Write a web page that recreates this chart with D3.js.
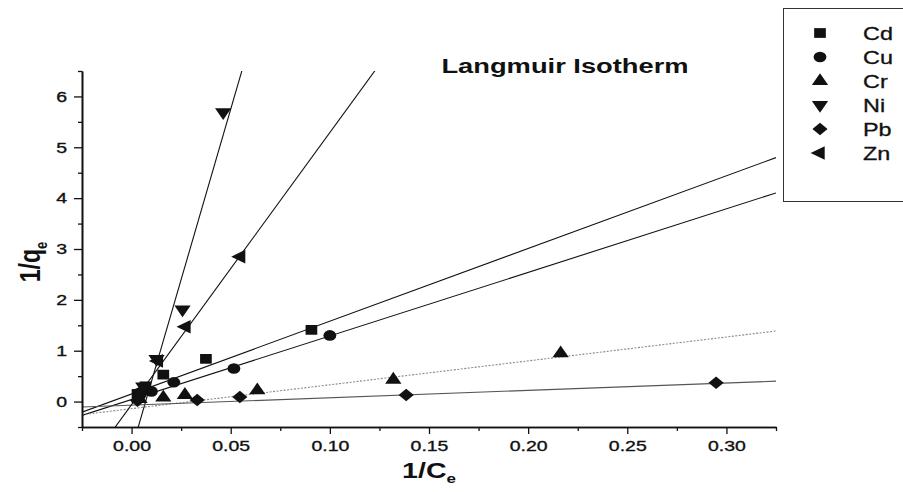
<!DOCTYPE html>
<html><head><meta charset="utf-8">
<script src="https://cdn.jsdelivr.net/npm/d3@7"></script>
<style>
body{margin:0;background:#fff;}
text{font-family:"Liberation Sans",Arial,Helvetica,sans-serif;fill:#111;}
</style>
</head><body>
<svg id="chart" width="903" height="492"></svg>
<script>
// ---- data ----
const seriesNames = ["Cd", "Cu", "Cr", "Ni", "Pb", "Zn"];
const cdX = [0.003, 0.007, 0.016, 0.0375, 0.0907];
const cdY = [0.15, 0.30, 0.53, 0.84, 1.41];
const cuX = [0.004, 0.010, 0.0213, 0.0516, 0.100];
const cuY = [0.12, 0.20, 0.38, 0.65, 1.30];
const crX = [0.004, 0.016, 0.0269, 0.0634, 0.132, 0.2164];
const crY = [0.05, 0.08, 0.13, 0.22, 0.43, 0.95];
const niX = [0.0059, 0.0126, 0.0257, 0.0462];
const niY = [0.30, 0.84, 1.81, 5.69];
const pbX = [0.003, 0.0331, 0.0546, 0.1385, 0.2948];
const pbY = [0.02, 0.03, 0.09, 0.13, 0.37];
const znX = [0.005, 0.0135, 0.0274, 0.055];
const znY = [0.22, 0.80, 1.47, 2.85];
// fitted straight lines (slope, intercept) as drawn in the reference
const fitSlope = [14.3, 12.5, 4.7, 134, 1.45, 53.5];
const fitIntercept = [0.15, 0.04, -0.14, -0.95, -0.07, -0.06];
const xTicks = [0.00, 0.05, 0.10, 0.15, 0.20, 0.25, 0.30];
const xMinorTicks = [-0.025, 0.025, 0.075, 0.125, 0.175, 0.225, 0.275, 0.325];
const yTicks = [0, 1, 2, 3, 4, 5, 6];
const yMinorTicks = [-0.5, 0.5, 1.5, 2.5, 3.5, 4.5, 5.5, 6.5];
const xDomain = [-0.025, 0.325];
const yDomain = [-0.5, 6.5];
const titleText = "Langmuir Isotherm";

// ---- styling ----
const SX = 1.3; // horizontal stretch of the reference text
const seriesX = [cdX, cuX, crX, niX, pbX, znX];
const seriesY = [cdY, cuY, crY, niY, pbY, znY];
const markerType = [d3.symbolSquare, d3.symbolCircle, d3.symbolTriangle, d3.symbolTriangle, d3.symbolSquare, d3.symbolTriangle];
const markerRot = [0, 0, 0, 180, 45, -90];
const markerSize = [95, 90, 80, 80, 80, 80];
const lineColor = ["#111", "#111", "#8a8a8a", "#111", "#555", "#111"];
const lineDash = [null, null, "2,1.5", null, null, null];

const svg = d3.select("#chart");
svg.append("rect").attr("width", 903).attr("height", 492).attr("fill", "#fff");

const x = d3.scaleLinear().domain(xDomain).range([82, 776]);
const y = d3.scaleLinear().domain(yDomain).range([427, 71]);

svg.append("clipPath").attr("id", "clip").append("rect")
  .attr("x", 82).attr("y", 71).attr("width", 694).attr("height", 356);

// fitted lines
const plot = svg.append("g").attr("clip-path", "url(#clip)");
seriesNames.forEach((n, i) => {
  const pts = xDomain.map(v => [v, fitSlope[i] * v + fitIntercept[i]]);
  plot.append("path")
    .attr("d", d3.line().x(d => x(d[0])).y(d => y(d[1]))(pts))
    .attr("fill", "none")
    .attr("stroke", lineColor[i])
    .attr("stroke-width", 1.1)
    .attr("stroke-dasharray", lineDash[i]);
});

// markers
const marks = svg.append("g");
seriesNames.forEach((n, i) => {
  const sym = d3.symbol().type(markerType[i]).size(markerSize[i]);
  seriesX[i].forEach((xv, j) => {
    marks.append("path")
      .attr("d", sym())
      .attr("transform", `translate(${x(xv)},${y(seriesY[i][j])}) scale(1.2,1) rotate(${markerRot[i]})`)
      .attr("fill", "#111");
  });
});

// axes
const xAxis = svg.append("g").attr("transform", "translate(0,427)")
  .call(d3.axisBottom(x).tickValues(xTicks).tickSize(7).tickSizeOuter(0).tickPadding(6).tickFormat(d3.format(".2f")));
svg.append("g").attr("transform", "translate(0,427)")
  .call(d3.axisBottom(x).tickValues(xMinorTicks).tickSize(4).tickSizeOuter(0).tickFormat(""));
const yAxis = svg.append("g").attr("transform", "translate(82,0)")
  .call(d3.axisLeft(y).tickValues(yTicks).tickSize(8).tickSizeOuter(0).tickPadding(7).tickFormat(d3.format("d")));
svg.append("g").attr("transform", "translate(82,0)")
  .call(d3.axisLeft(y).tickValues(yMinorTicks).tickSize(4).tickSizeOuter(0).tickFormat(""));

svg.selectAll(".domain").attr("stroke", "#111").attr("stroke-width", 1.6);
svg.selectAll(".tick line").attr("stroke", "#111").attr("stroke-width", 1.3);
xAxis.selectAll("text").attr("font-size", 15).attr("transform", `scale(${SX},1)`)
  .attr("font-family", '"Liberation Sans",Arial,sans-serif').attr("fill", "#111")
  .attr("stroke", "#111").attr("stroke-width", 0.35);
yAxis.selectAll("text").attr("font-size", 15)
  .attr("x", -15 / SX).attr("transform", `scale(${SX},1)`)
  .attr("font-family", '"Liberation Sans",Arial,sans-serif').attr("fill", "#111")
  .attr("stroke", "#111").attr("stroke-width", 0.35);

// title
svg.append("text").attr("transform", `translate(565,73) scale(${SX},1)`)
  .attr("text-anchor", "middle").attr("font-size", 21).attr("font-weight", "bold").text(titleText);

// x title
const xt = svg.append("text").attr("transform", `translate(429,478) scale(${SX},1)`)
  .attr("text-anchor", "middle").attr("font-size", 22).attr("font-weight", "bold");
xt.append("tspan").text("1/C");
xt.append("tspan").attr("font-size", 13).attr("dy", 5).text("e");

// y title
const yt = svg.append("text").attr("transform", `translate(40,262) scale(${SX},1) rotate(-90)`)
  .attr("text-anchor", "middle").attr("font-size", 23).attr("font-weight", "bold");
yt.append("tspan").text("1/q");
yt.append("tspan").attr("font-size", 13).attr("dy", 5).text("e");

// legend
const lg = svg.append("g");
lg.append("rect").attr("x", 783.5).attr("y", 8.5).attr("width", 130).attr("height", 193)
  .attr("fill", "#fff").attr("stroke", "#333").attr("stroke-width", 1);
const legendRowY = [33, 57, 81, 105, 129, 153];
seriesNames.forEach((n, i) => {
  const sym = d3.symbol().type(markerType[i]).size(markerSize[i]);
  lg.append("path").attr("d", sym())
    .attr("transform", `translate(820,${legendRowY[i]}) scale(1.2,1) rotate(${markerRot[i]})`)
    .attr("fill", "#111");
  lg.append("text").attr("transform", `translate(863,${legendRowY[i] + 6.5}) scale(${SX},1)`)
    .attr("font-size", 18).attr("stroke", "#111").attr("stroke-width", 0.3).text(n);
});
</script>
</body></html>
